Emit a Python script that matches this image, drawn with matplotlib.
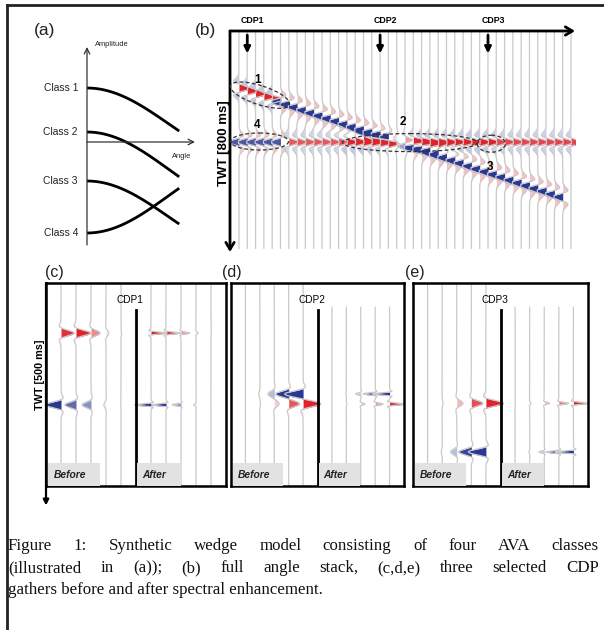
import numpy as np
import matplotlib
matplotlib.use('Agg')
import matplotlib.pyplot as plt
from matplotlib.colors import to_rgb
from matplotlib.patches import Ellipse, Rectangle

W, H = 604, 630
SANS = ['Liberation Sans', 'DejaVu Sans']
SERIF = ['Liberation Serif', 'DejaVu Serif']
RED = '#e1222b'
BLUE = '#2b3794'
TRACE = '#c9c9c9'

# (a) AVA classes: intercept / gradient
ava_labels = ['Class 1', 'Class 2', 'Class 3', 'Class 4']
ava_intercept = [0.54, 0.10, -0.39, -0.91]
ava_gradient = [-0.72, -0.75, -0.72, 0.75]
ava_max_angle = 50

# (b) full angle stack, 41 traces, times in ms
n_traces = 41
top_twt = [208, 218, 228, 239, 249, 259, 269, 279, 290, 300,
           310, 320, 330, 341, 351, 361, 371, 381, 392, 402,
           412, 422, 432, 443, 453, 463, 473, 483, 494, 504,
           514, 524, 534, 545, 555, 565, 575, 585, 596, 606]
top_amp = [1.0] * 5 + [-1.0] * 35
base_twt = 405
base_amp = [-0.9] * 6 + [0.85] * 7 + [1.0] * 18 + [0.9] * 10
cdp_traces = [1, 17, 30]
cdp_labels = ['CDP1', 'CDP2', 'CDP3']
tag_text = ['1', '4', '2', '3']
tag_trace = [2.2, 2.2, 19.8, 30.2]
tag_twt = [179, 343, 332, 496]

# (c,d,e) CDP gathers: 5 offsets before / after, two events each
g1_twt = [123, 300]
g1_before = [[0.72, 0.8, 0.5, 0.15, 0.03], [-0.88, -0.62, -0.5, -0.12, -0.02]]
g1_after = [[0.9, 0.8, 0.48, 0.12, 0.02], [-0.92, -0.8, -0.48, -0.12, -0.02]]
g2_twt = [273, 298]
g2_before = [[0.0, -0.06, -0.35, -0.72, -1.0], [0.0, 0.03, 0.25, 0.58, 0.95]]
g2_after = [[0.0, -0.04, -0.3, -0.7, -1.0], [0.0, 0.03, 0.25, 0.45, 0.9]]
g3_twt = [296, 416]
g3_before = [[0.0, 0.05, 0.35, 0.65, 1.0], [0.0, -0.05, -0.35, -0.72, -1.0]]
g3_after = [[0.02, 0.08, 0.3, 0.55, 0.85], [0.0, -0.05, -0.3, -0.75, -1.05]]

caption = ["Figure 1: Synthetic wedge model consisting of four AVA classes",
           "(illustrated in (a)); (b) full angle stack, (c,d,e) three selected CDP",
           "gathers before and after spectral enhancement."]

fig = plt.figure(figsize=(W / 100, H / 100), dpi=100)


def pax(x0, y0, x1, y1):
    return fig.add_axes([x0 / W, 1 - y1 / H, (x1 - x0) / W, (y1 - y0) / H])


def wavelet(t, f, a):
    u = 2 * (np.pi * f * t) ** 2
    return (1 - a * u) * np.exp(-u / 2)


def shade(c, f):
    c = np.array(to_rgb(c))
    return tuple(1 - (1 - c) * f)


def wiggle(ax, x0, t, s, gain, clip, ref, power):
    x = np.clip(s * gain, -clip, clip)
    sg = np.where(s > 1e-4, 1, np.where(s < -1e-4, -1, 0))
    cuts = np.flatnonzero(np.diff(sg)) + 1
    for a, b in zip(np.r_[0, cuts], np.r_[cuts, len(s)]):
        if sg[a] == 0:
            continue
        f = min(1.0, np.abs(s[a:b]).max() / ref) ** power
        if f < 0.03:
            continue
        seg = slice(max(a - 1, 0), min(b + 1, len(s)))
        ax.fill_betweenx(t[seg], x0, x0 + x[seg],
                         color=shade(RED if sg[a] > 0 else BLUE, f), lw=0)
    ax.plot(x0 + x, t, color=TRACE, lw=0.9)


# ---- (a) AVA sketch
ax_a = pax(87, 50, 195, 245)
ax_a.set_xlim(0, 59.3)
ax_a.set_ylim(-1.03, 0.92)
ax_a.axis('off')
theta = np.linspace(0, ava_max_angle, 200)
for lab, A, B in zip(ava_labels, ava_intercept, ava_gradient):
    ax_a.plot(theta, A + B * np.sin(np.radians(theta)) ** 2, color='k', lw=2)
    ax_a.text(-5, A, lab, ha='right', va='center', fontsize=7.4, family=SANS, color='#222')
arr = dict(arrowstyle='->', lw=0.9, color='#333', shrinkA=0, shrinkB=0)
ax_a.annotate('', xy=(59.3, 0), xytext=(0, 0), arrowprops=arr, annotation_clip=False)
ax_a.annotate('', xy=(0, 0.95), xytext=(0, -1.03), arrowprops=arr, annotation_clip=False)
ax_a.text(4.4, 0.98, 'Amplitude', ha='left', va='center', fontsize=5.4, family=SANS, color='#222')
ax_a.text(52, -0.15, 'Angle', ha='center', va='center', fontsize=5.4, family=SANS, color='#222')

# ---- (b) full stack
ax_b = pax(230, 31, 575, 252)
ax_b.set_xlim(-1.08, 40.48)
ax_b.set_ylim(806, 0)
ax_b.axis('off')
tb = np.arange(0, 793, 0.5)
for i in range(n_traces):
    s = base_amp[i] * wavelet((tb - base_twt) / 1000, 15, 1)
    if i < len(top_twt):
        s = s + top_amp[i] * wavelet((tb - top_twt[i]) / 1000, 15, 1)
    wiggle(ax_b, i, tb, s, gain=1.4, clip=1.05, ref=1.0, power=1.6)
axarr = dict(arrowstyle='->, head_width=0.3, head_length=0.5', lw=2, color='k',
             shrinkA=0, shrinkB=0)
ax_b.annotate('', xy=(1, 1), xytext=(0, 1), xycoords='axes fraction', arrowprops=axarr)
ax_b.annotate('', xy=(0, 0), xytext=(0, 1), xycoords='axes fraction', arrowprops=axarr)
for c, lab in zip(cdp_traces, cdp_labels):
    ax_b.annotate('', xy=(c, 82), xytext=(c, 15),
                  arrowprops=dict(arrowstyle='-|>', lw=2, color='k', mutation_scale=9,
                                  shrinkA=0, shrinkB=0), annotation_clip=False)
    ax_b.text(c + 0.6, -40, lab, ha='center', va='center', fontsize=6.3,
              fontweight='bold', family=SANS, clip_on=False)
for tx, tr, tt in zip(tag_text, tag_trace, tag_twt):
    ax_b.text(tr, tt, tx, ha='center', va='center', fontsize=8.5, fontweight='bold',
              family=SANS, zorder=6)
ax_b.text(-1.75, 409, 'TWT [800 ms]', rotation=90, ha='center', va='center',
          fontsize=9.5, fontweight='bold', family=SANS, clip_on=False)


# ---- (c,d,e) gathers
def gather(box, twt, before, after, label, after_top):
    ax = pax(*box)
    ax.set_xlim(0, 12)
    ax.set_ylim(500, 0)
    ax.set_xticks([])
    ax.set_yticks([])
    for sp in ax.spines.values():
        sp.set_linewidth(1.8)
    t = np.arange(0, 500.25, 0.25)
    for k in range(5):
        s = sum(amp[k] * wavelet((t - tt) / 1000, 25, 0.5) for tt, amp in zip(twt, before))
        wiggle(ax, 1 + k, t, s, gain=1.2, clip=1.4, ref=0.75, power=1.5)
        ta = t[t >= after_top]
        s = sum(amp[k] * wavelet((ta - tt) / 1000, 70, 0.5) for tt, amp in zip(twt, after))
        wiggle(ax, 7 + k, ta, s, gain=1.2, clip=1.4, ref=0.75, power=1.5)
    ax.plot([6, 6], [66, 500], color='k', lw=2)
    ax.text(5.6, 42, label, ha='center', va='center', fontsize=7.2, family=SANS)
    for x0, wd, word in [(0.15, 3.45, 'Before'), (6.08, 2.9, 'After')]:
        ax.add_patch(Rectangle((x0, 443), wd, 57, facecolor='#e2e2e2', edgecolor='none', zorder=4))
        ax.text(x0 + 0.35, 473, word, ha='left', va='center', fontsize=7.4, fontweight='bold',
                fontstyle='italic', family=SANS, color='#222', zorder=5)
    return ax


ax_c = gather((46, 283, 226, 486), g1_twt, g1_before, g1_after, 'CDP1', 0)
ax_d = gather((231, 283, 404, 486), g2_twt, g2_before, g2_after, 'CDP2', 60)
ax_e = gather((413, 283, 588, 486), g3_twt, g3_before, g3_after, 'CDP3', 60)
ax_c.annotate('', xy=(0, 548), xytext=(0, 0),
              arrowprops=dict(arrowstyle='-|>', lw=1.6, color='k', mutation_scale=8,
                              shrinkA=0, shrinkB=0), annotation_clip=False)
ax_c.text(-0.4, 227, 'TWT [500 ms]', rotation=90, ha='center', va='center',
          fontsize=7.8, fontweight='bold', family=SANS, clip_on=False)

# ---- overlay in pixel coordinates
ov = fig.add_axes([0, 0, 1, 1], zorder=10)
ov.set_xlim(0, W)
ov.set_ylim(H, 0)
ov.axis('off')
ov.patch.set_alpha(0)
ov.plot([6.5, 6.5], [5, H], color='#222', lw=2)
ov.plot([6.5, W], [5, 5], color='#222', lw=2)

for lab, x, y, fs in [('(a)', 45, 31, 12.5), ('(b)', 205, 31, 12.5), ('(c)', 54, 272, 11.5),
                      ('(d)', 232, 273, 11.5), ('(e)', 415, 273, 11.5)]:
    ov.text(x, y, lab, ha='center', va='center', fontsize=fs, family=SANS, color='#222')

# dashed ellipses anchored to stack coordinates (trace, ms), sizes in px
for tr, tt, w, h, ang in [(2.53, 234, 62, 19, 18), (2.47, 403, 58, 17, 0),
                          (20.6, 407, 135, 18, 0), (30.4, 411, 28, 17, 0)]:
    dx, dy = ax_b.transData.transform((tr, tt))
    ov.add_patch(Ellipse((dx, H - dy), w, h, angle=ang, fill=False, edgecolor='#333',
                         lw=0.9, linestyle=(0, (3, 2))))

# justified caption
renderer = fig.canvas.get_renderer()
x_left, x_right = 8, 599
for n, (line, y) in enumerate(zip(caption, [546, 568, 590])):
    kw = dict(fontsize=12.2, family=SERIF, va='center', ha='left', color='#111')
    if n == len(caption) - 1:
        ov.text(x_left, y, line, **kw)
        continue
    words = line.split()
    texts = [ov.text(0, y, w, **kw) for w in words]
    widths = [t.get_window_extent(renderer=renderer).width for t in texts]
    gap = (x_right - x_left - sum(widths)) / (len(words) - 1)
    x = x_left
    for t, w in zip(texts, widths):
        t.set_x(x)
        x += w + gap

fig.savefig('out.png', dpi=100)
